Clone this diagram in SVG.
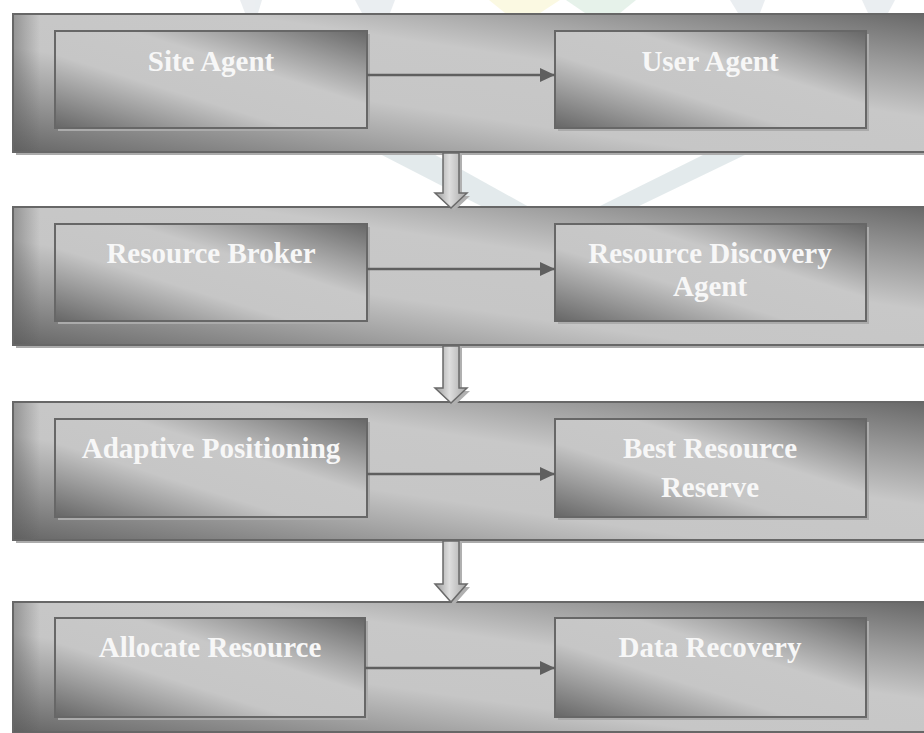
<svg xmlns="http://www.w3.org/2000/svg" width="924" height="733" viewBox="0 0 924 733">
  <style>
    .band { fill: url(#g); stroke: #676767; stroke-width: 2; }
    .shadow { fill: #ababab; }
    .box { fill: url(#g); stroke: #676767; stroke-width: 2; }
    .lbl { font-family: "Liberation Serif", "Times New Roman", serif; font-weight: bold; font-size: 29px; fill: #f7f7f7; text-anchor: middle; }
    .conn { stroke: #5f5f5f; stroke-width: 2.5; fill: none; }
    .blk { fill: url(#ga); stroke: #6a6a6a; stroke-width: 1.5; stroke-linejoin: miter; }
    .blkshadow { fill: #b0b0b0; }
    .wm { fill: #dde6e8; }
  </style>
  <defs>
    <linearGradient id="g" x1="0" y1="1" x2="1" y2="0">
      <stop offset="0" stop-color="#666666"/>
      <stop offset="0.2" stop-color="#999999"/>
      <stop offset="0.38" stop-color="#c6c6c6"/>
      <stop offset="0.62" stop-color="#c8c8c8"/>
      <stop offset="0.8" stop-color="#9b9b9b"/>
      <stop offset="1" stop-color="#676767"/>
    </linearGradient>
    <linearGradient id="gl" x1="0" y1="0" x2="1" y2="0">
      <stop offset="0" stop-color="#5a5a5a" stop-opacity="0.45"/>
      <stop offset="1" stop-color="#5a5a5a" stop-opacity="0"/>
    </linearGradient>
    <linearGradient id="ga" x1="0" y1="0" x2="1" y2="0">
      <stop offset="0" stop-color="#9a9a9a"/>
      <stop offset="0.45" stop-color="#dedede"/>
      <stop offset="1" stop-color="#a5a5a5"/>
    </linearGradient>
    <marker id="ah" markerWidth="16" markerHeight="14" refX="15" refY="7" orient="auto" markerUnits="userSpaceOnUse">
      <path d="M0,0 L15,7 L0,14 Z" fill="#5f5f5f"/>
    </marker>
  </defs>

  <rect width="924" height="733" fill="#ffffff"/>

  <!-- faint watermark remnants -->
  <g id="watermark" opacity="0.8">
    <polygon class="wm" points="376,152 430,152 529,207 483,207"/>
    <polygon class="wm" points="709,152 751,152 637,207 598,207"/>
    <polygon points="489,0 560,0 540,13 505,13" fill="#fbf8dc"/>
    <polygon points="566,0 636,0 620,13 585,13" fill="#e0efe6"/>
    <polygon points="240,0 262,0 258,13 245,13" fill="#e6eaee"/>
    <polygon points="355,0 395,0 390,13 362,13" fill="#e6eaee"/>
    <polygon points="730,0 765,0 760,13 738,13" fill="#e6eaee"/>
    <polygon points="862,0 895,0 888,13 868,13" fill="#e6eaee"/>
  </g>

  <!-- Band 1 -->
  <g id="band1">
    <rect class="shadow" x="16" y="17" width="920" height="138"/>
    <rect class="band" x="13" y="14" width="920" height="138"/>
    <rect x="14" y="15" width="26" height="136" fill="url(#gl)"/>
  </g>
  <g id="site-agent">
    <rect class="shadow" x="58" y="34" width="312" height="97"/>
    <rect class="box" x="55" y="31" width="312" height="97"/>
    <text class="lbl" x="211" y="71">Site Agent</text>
  </g>
  <g id="user-agent">
    <rect class="shadow" x="558" y="34" width="311" height="97"/>
    <rect class="box" x="555" y="31" width="311" height="97"/>
    <text class="lbl" x="710" y="71">User Agent</text>
  </g>

  <!-- Band 2 -->
  <g id="band2">
    <rect class="shadow" x="16" y="210" width="920" height="138"/>
    <rect class="band" x="13" y="207" width="920" height="138"/>
    <rect x="14" y="208" width="26" height="136" fill="url(#gl)"/>
  </g>
  <g id="resource-broker">
    <rect class="shadow" x="58" y="227" width="312" height="97"/>
    <rect class="box" x="55" y="224" width="312" height="97"/>
    <text class="lbl" x="211" y="263">Resource Broker</text>
  </g>
  <g id="resource-discovery-agent">
    <rect class="shadow" x="558" y="227" width="311" height="97"/>
    <rect class="box" x="555" y="224" width="311" height="97"/>
    <text class="lbl" x="710" y="263">Resource Discovery</text>
    <text class="lbl" x="710" y="296">Agent</text>
  </g>

  <!-- Band 3 -->
  <g id="band3">
    <rect class="shadow" x="16" y="405" width="920" height="138"/>
    <rect class="band" x="13" y="402" width="920" height="138"/>
    <rect x="14" y="403" width="26" height="136" fill="url(#gl)"/>
  </g>
  <g id="adaptive-positioning">
    <rect class="shadow" x="58" y="422" width="312" height="98"/>
    <rect class="box" x="55" y="419" width="312" height="98"/>
    <text class="lbl" x="211" y="458">Adaptive Positioning</text>
  </g>
  <g id="best-resource-reserve">
    <rect class="shadow" x="558" y="422" width="311" height="98"/>
    <rect class="box" x="555" y="419" width="311" height="98"/>
    <text class="lbl" x="710" y="458">Best Resource</text>
    <text class="lbl" x="710" y="497">Reserve</text>
  </g>

  <!-- Band 4 -->
  <g id="band4">
    <rect class="shadow" x="16" y="605" width="920" height="135"/>
    <rect class="band" x="13" y="602" width="920" height="130"/>
    <rect x="14" y="603" width="26" height="129" fill="url(#gl)"/>
  </g>
  <g id="allocate-resource">
    <rect class="shadow" x="58" y="621" width="310" height="99"/>
    <rect class="box" x="55" y="618" width="310" height="99"/>
    <text class="lbl" x="210" y="657">Allocate Resource</text>
  </g>
  <g id="data-recovery">
    <rect class="shadow" x="558" y="621" width="311" height="99"/>
    <rect class="box" x="555" y="618" width="311" height="99"/>
    <text class="lbl" x="710" y="657">Data Recovery</text>
  </g>

  <!-- Connectors -->
  <g id="connectors">
    <line class="conn" x1="367" y1="75" x2="555" y2="75" marker-end="url(#ah)"/>
    <line class="conn" x1="367" y1="269" x2="555" y2="269" marker-end="url(#ah)"/>
    <line class="conn" x1="367" y1="474" x2="555" y2="474" marker-end="url(#ah)"/>
    <line class="conn" x1="365" y1="668" x2="555" y2="668" marker-end="url(#ah)"/>

    <path class="blkshadow" d="M446,153 L462,153 L462,196 L470,196 L454,211 L438,196 L446,196 Z"/>
    <path class="blk" d="M443,153 L459,153 L459,193 L467,193 L451,208 L435,193 L443,193 Z"/>

    <path class="blkshadow" d="M446,346 L462,346 L462,391 L470,391 L454,406 L438,391 L446,391 Z"/>
    <path class="blk" d="M443,346 L459,346 L459,388 L467,388 L451,403 L435,388 L443,388 Z"/>

    <path class="blkshadow" d="M446,541 L462,541 L462,587 L470,587 L454,605 L438,587 L446,587 Z"/>
    <path class="blk" d="M443,541 L459,541 L459,584 L467,584 L451,602 L435,584 L443,584 Z"/>
  </g>
</svg>
